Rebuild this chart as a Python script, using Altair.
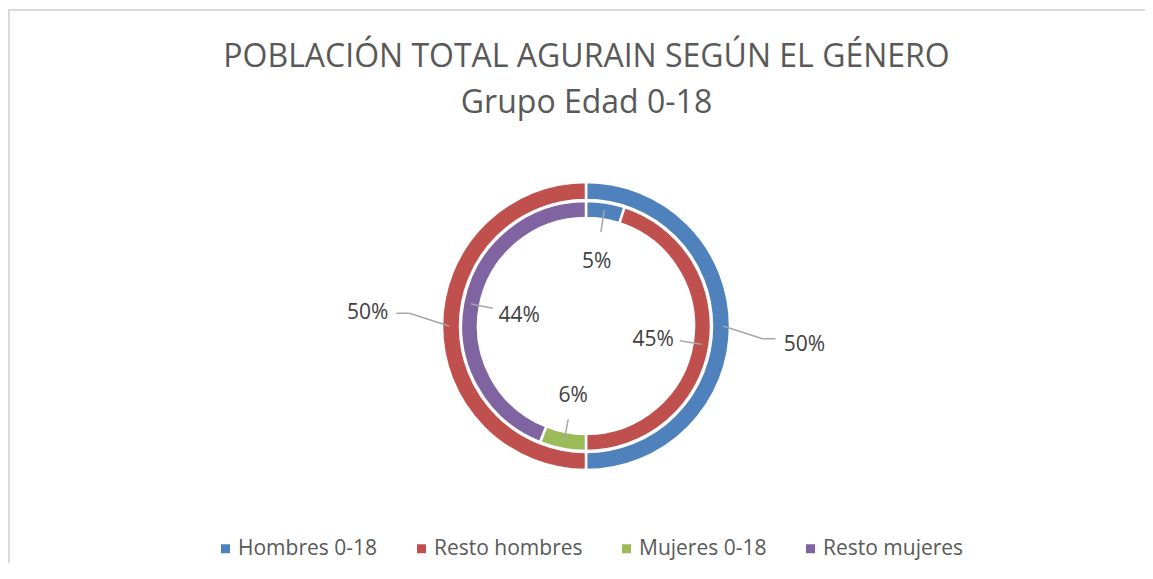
import altair as alt
import pandas as pd

# ---- data ----
title_lines = ["POBLACIÓN TOTAL AGURAIN SEGÚN EL GÉNERO", "Grupo Edad 0-18"]
inner_cats = ["Hombres 0-18", "Resto hombres", "Mujeres 0-18", "Resto mujeres"]
inner_vals = [0.05, 0.45, 0.06, 0.44]
outer_cats = ["Hombres", "Mujeres"]
outer_vals = [0.50, 0.50]
colors = ["#4F81BD", "#C0504D", "#9BBB59", "#8064A2"]

inner_df = pd.DataFrame({"cat": inner_cats, "value": inner_vals, "idx": list(range(len(inner_cats)))})
outer_df = pd.DataFrame({"grp": outer_cats, "value": outer_vals, "idx": list(range(len(outer_cats)))})

# ---- layout ----
W, H = 1137, 555
CX, CY = 578, 318
FONT = "Open Sans"
LBL = "#404040"
LEAD = "#a6a6a6"

inner_arc = alt.Chart(inner_df).mark_arc(
    innerRadius=108, outerRadius=125, stroke="white", strokeWidth=2.5
).encode(
    theta=alt.Theta("value:Q", stack=True),
    order=alt.Order("idx:Q"),
    color=alt.Color(
        "cat:N",
        scale=alt.Scale(domain=inner_cats, range=colors),
        legend=alt.Legend(
            title=None, orient="none", legendX=207, legendY=530, direction="horizontal",
            symbolType="square", symbolSize=81, symbolStrokeWidth=0,
            labelFont=FONT, labelFontSize=21, labelColor="#595959",
            labelOffset=2, columnPadding=33, padding=0,
        ),
    ),
    x=alt.value(CX), y=alt.value(CY),
)

outer_arc = alt.Chart(outer_df).mark_arc(
    innerRadius=126, outerRadius=144, stroke="white", strokeWidth=2.5
).encode(
    theta=alt.Theta("value:Q", stack=True),
    order=alt.Order("idx:Q"),
    color=alt.Color("grp:N", scale=alt.Scale(domain=outer_cats, range=colors[:2]), legend=None),
    x=alt.value(CX), y=alt.value(CY),
)


def with_angles(df):
    return alt.Chart(df).transform_window(
        cum="sum(value)", sort=[alt.SortField("idx", order="ascending")], frame=[None, 0]
    ).transform_joinaggregate(total="sum(value)").transform_calculate(
        ang="2*PI*(datum.cum - datum.value/2)/datum.total"
    )


inner_base = with_angles(inner_df)
inner_lead = inner_base.transform_calculate(
    x1=f"{CX}+117*sin(datum.ang)", y1=f"{CY}-117*cos(datum.ang)",
    x2=f"{CX}+95*sin(datum.ang)", y2=f"{CY}-95*cos(datum.ang)",
).mark_rule(color=LEAD, strokeWidth=1.5).encode(
    x=alt.X("x1:Q", scale=None), y=alt.Y("y1:Q", scale=None), x2="x2:Q", y2="y2:Q"
)
inner_text = inner_base.transform_calculate(
    tx=f"{CX}+68*sin(datum.ang)", ty=f"{CY}-68*cos(datum.ang)"
).mark_text(font=FONT, fontSize=21, color=LBL, baseline="middle", align="center", dy=3).encode(
    x=alt.X("tx:Q", scale=None), y=alt.Y("ty:Q", scale=None), text=alt.Text("value:Q", format=".0%")
)

outer_base = with_angles(outer_df).transform_calculate(ang2="datum.ang + 0.072", side="sin(datum.ang) >= 0 ? 1 : -1")
outer_lead1 = outer_base.transform_calculate(
    x1=f"{CX}+137*sin(datum.ang)", y1=f"{CY}-137*cos(datum.ang)",
    x2=f"{CX}+177*sin(datum.ang2)", y2=f"{CY}-177*cos(datum.ang2)",
).mark_rule(color=LEAD, strokeWidth=1.5).encode(
    x=alt.X("x1:Q", scale=None), y=alt.Y("y1:Q", scale=None), x2="x2:Q", y2="y2:Q"
)
outer_lead2 = outer_base.transform_calculate(
    x1=f"{CX}+177*sin(datum.ang2)", y1=f"{CY}-177*cos(datum.ang2)",
    x2=f"{CX}+177*sin(datum.ang2) + 13*datum.side",
).mark_rule(color=LEAD, strokeWidth=1.5).encode(
    x=alt.X("x1:Q", scale=None), y=alt.Y("y1:Q", scale=None), x2="x2:Q"
)
outer_text = outer_base.transform_calculate(
    tx=f"{CX}+219*sin(datum.ang2)", ty=f"{CY}-219*cos(datum.ang2)"
).mark_text(font=FONT, fontSize=21, color=LBL, baseline="middle", align="center", dy=3).encode(
    x=alt.X("tx:Q", scale=None), y=alt.Y("ty:Q", scale=None), text=alt.Text("value:Q", format=".0%")
)

border_top = alt.Chart(inner_df).mark_rule(color="#d9d9d9", strokeWidth=2).encode(
    x=alt.value(0), x2=alt.value(W), y=alt.value(2)
)
border_left = alt.Chart(inner_df).mark_rule(color="#d9d9d9", strokeWidth=2).encode(
    x=alt.value(1), y=alt.value(1), y2=alt.value(H)
)

chart = alt.layer(
    border_top, border_left, outer_arc, inner_arc,
    inner_lead, outer_lead1, outer_lead2, inner_text, outer_text,
).resolve_scale(color="independent").properties(
    width=W, height=H, autosize=alt.AutoSizeParams(type="none"), padding=0,
    title=alt.TitleParams(
        text=title_lines, font=FONT, fontSize=32, fontWeight="normal", color="#595959",
        anchor="middle", lineHeight=46, baseline="top", offset=0, dy=112, dx=10,
    ),
).configure_view(stroke=None)

chart.save("out.html", embed_options={"renderer": "svg", "actions": False})
